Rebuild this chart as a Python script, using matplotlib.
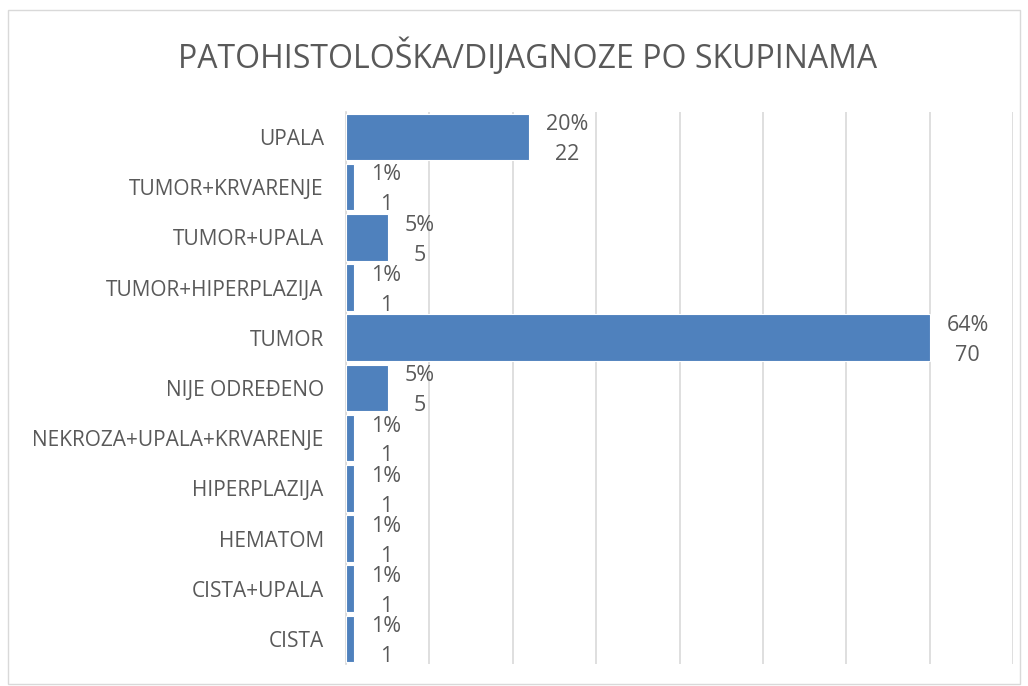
import matplotlib
matplotlib.use('Agg')
import matplotlib.pyplot as plt
from matplotlib.patches import Rectangle

# data, bottom to top as drawn
categories = ['CISTA', 'CISTA+UPALA', 'HEMATOM', 'HIPERPLAZIJA',
              'NEKROZA+UPALA+KRVARENJE', 'NIJE ODREĐENO', 'TUMOR',
              'TUMOR+HIPERPLAZIJA', 'TUMOR+UPALA', 'TUMOR+KRVARENJE', 'UPALA']
counts = [1, 1, 1, 1, 1, 5, 70, 1, 5, 1, 22]
percents = ['1%', '1%', '1%', '1%', '1%', '5%', '64%', '1%', '5%', '1%', '20%']

plt.rcParams['font.family'] = ['Open Sans', 'DejaVu Sans']
grey = '#595959'

fig = plt.figure(figsize=(10.28, 6.86), dpi=100)
ax = fig.add_axes([0.3366, 0.032, 0.6488, 0.805])

ax.barh(range(len(categories)), counts, height=0.93, color='#4F81BD',
        edgecolor='white', linewidth=0.8, zorder=3)

for i, (c, p) in enumerate(zip(counts, percents)):
    ax.annotate(p + '\n' + str(c), xy=(c, i), xytext=(12, -2),
                textcoords='offset points', ha='left', va='center',
                multialignment='center', linespacing=1.55,
                fontsize=15.5, color=grey)

ax.set_xlim(0, 80)
ax.set_ylim(-0.5, len(categories) - 0.5)
ax.set_xticks(range(0, 81, 10))
ax.set_xticklabels([])
ax.tick_params(axis='x', length=0)
ax.tick_params(axis='y', length=0, pad=16)
ax.set_yticks(range(len(categories)))
ax.set_yticklabels(categories, fontsize=15, color=grey)
ax.grid(axis='x', color='#d9d9d9', linewidth=1.2, zorder=0)
for s in ['top', 'right', 'bottom']:
    ax.spines[s].set_visible(False)
ax.spines['left'].set_color('#d9d9d9')
ax.spines['left'].set_linewidth(1.2)

fig.text(0.513, 0.917, 'PATOHISTOLOŠKA/DIJAGNOZE PO SKUPINAMA',
         ha='center', va='center', fontsize=23, color=grey)

fig.patches.append(Rectangle((0.008, 0.003), 0.984, 0.983, transform=fig.transFigure,
                             fill=False, edgecolor='#d9d9d9', linewidth=1))

plt.savefig('out.png', dpi=100)
